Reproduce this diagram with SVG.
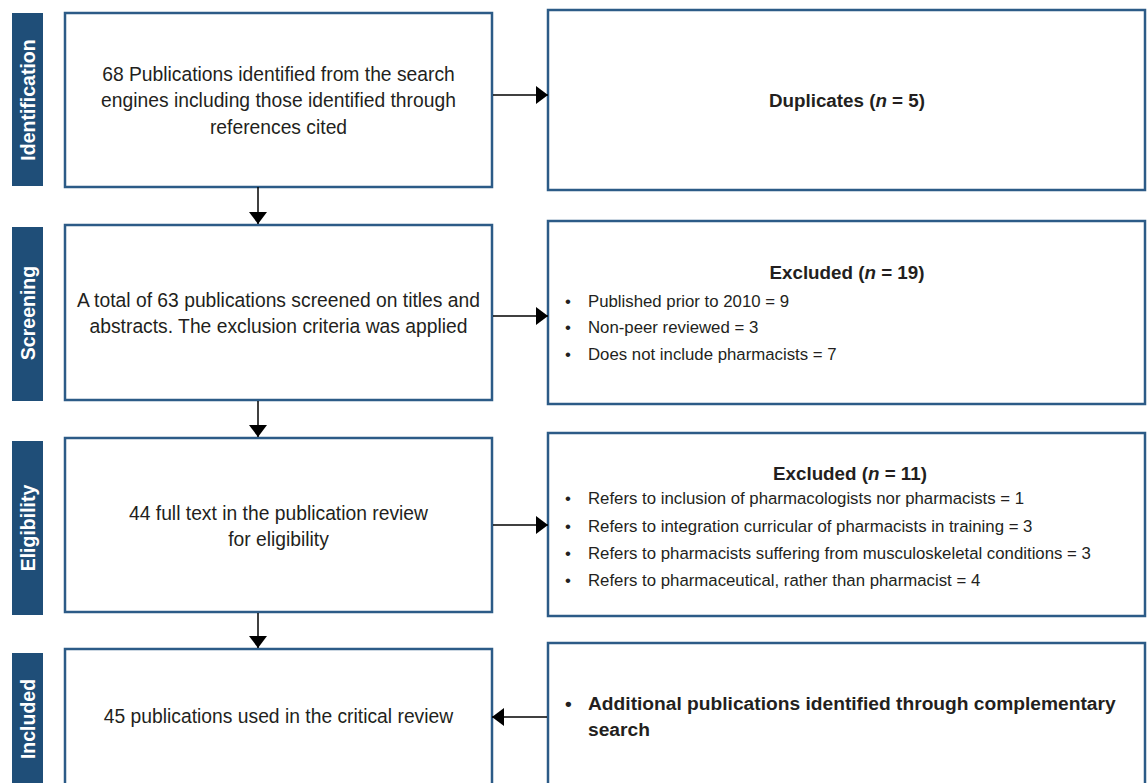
<svg xmlns="http://www.w3.org/2000/svg" width="1148" height="783" viewBox="0 0 1148 783">
<style>
.bar{fill:#1f4e78}
.box{fill:#ffffff;stroke:#2c5b87;stroke-width:2.5}
.lbl{font-family:"Liberation Sans",Arial,sans-serif;font-weight:bold;font-size:19.5px;fill:#ffffff;text-anchor:middle}
.t{font-family:"Liberation Sans",Arial,sans-serif;font-size:19.3px;fill:#231f20}
.c{text-anchor:middle}
.b{font-weight:bold;font-size:18.8px}
.ab{font-weight:bold;font-size:19.2px}
.s{font-size:16.8px}
.conn line{stroke:#000;stroke-width:1.5}
</style>
<defs>
<marker id="ah" viewBox="0 0 12 18" refX="12" refY="9" markerWidth="12" markerHeight="18" markerUnits="userSpaceOnUse" orient="auto">
<path d="M0,0 L12,9 L0,18 Z" fill="#000"/>
</marker>
</defs>
<rect width="1148" height="783" fill="#ffffff"/>

<g id="phase-identification">
<rect class="bar" x="12" y="13" width="31" height="173"/>
<text class="lbl" transform="translate(34.5,100) rotate(-90)">Identification</text>
</g>
<g id="phase-screening">
<rect class="bar" x="12" y="227" width="31" height="174"/>
<text class="lbl" transform="translate(34.5,313) rotate(-90)">Screening</text>
</g>
<g id="phase-eligibility">
<rect class="bar" x="12" y="441" width="31" height="174"/>
<text class="lbl" transform="translate(34.5,528) rotate(-90)">Eligibility</text>
</g>
<g id="phase-included">
<rect class="bar" x="12" y="653" width="31" height="140"/>
<text class="lbl" transform="translate(34.5,719) rotate(-90)">Included</text>
</g>

<g id="n-identified">
<rect class="box" x="65" y="13" width="427" height="174"/>
<text class="t c" x="278.5" y="81">68 Publications identified from the search</text>
<text class="t c" x="278.5" y="107">engines including those identified through</text>
<text class="t c" x="278.5" y="134">references cited</text>
</g>
<g id="n-duplicates">
<rect class="box" x="548" y="10" width="597" height="180"/>
<text class="t c b" x="847" y="107">Duplicates (<tspan font-style="italic">n</tspan> = 5)</text>
</g>

<g id="n-screened">
<rect class="box" x="65" y="225" width="427" height="175"/>
<text class="t c" x="278.5" y="307">A total of 63 publications screened on titles and</text>
<text class="t c" x="278.5" y="333">abstracts. The exclusion criteria was applied</text>
</g>
<g id="n-excluded-19">
<rect class="box" x="548" y="221" width="597" height="183"/>
<text class="t c b" x="847" y="279">Excluded (<tspan font-style="italic">n</tspan> = 19)</text>
<text class="t s" x="565" y="307">•</text><text class="t s" x="588" y="307">Published prior to 2010 = 9</text>
<text class="t s" x="565" y="333">•</text><text class="t s" x="588" y="333">Non-peer reviewed = 3</text>
<text class="t s" x="565" y="360">•</text><text class="t s" x="588" y="360">Does not include pharmacists = 7</text>
</g>

<g id="n-eligibility">
<rect class="box" x="65" y="438" width="427" height="174"/>
<text class="t c" x="278.5" y="520">44 full text in the publication review</text>
<text class="t c" x="278.5" y="546">for eligibility</text>
</g>
<g id="n-excluded-11">
<rect class="box" x="548" y="433" width="597" height="183"/>
<text class="t c b" x="850" y="480">Excluded (<tspan font-style="italic">n</tspan> = 11)</text>
<text class="t s" x="565" y="504">•</text><text class="t s" x="588" y="504">Refers to inclusion of pharmacologists nor pharmacists = 1</text>
<text class="t s" x="565" y="532">•</text><text class="t s" x="588" y="532">Refers to integration curricular of pharmacists in training = 3</text>
<text class="t s" x="565" y="559">•</text><text class="t s" x="588" y="559">Refers to pharmacists suffering from musculoskeletal conditions = 3</text>
<text class="t s" x="565" y="586">•</text><text class="t s" x="588" y="586">Refers to pharmaceutical, rather than pharmacist = 4</text>
</g>

<g id="n-included">
<rect class="box" x="65" y="649" width="427" height="150"/>
<text class="t c" x="278.5" y="723">45 publications used in the critical review</text>
</g>
<g id="n-additional">
<rect class="box" x="548" y="643" width="597" height="160"/>
<text class="t ab" x="565" y="710">•</text>
<text class="t ab" x="588" y="710">Additional publications identified through complementary</text>
<text class="t ab" x="588" y="736">search</text>
</g>

<g id="connectors" class="conn">
<line x1="258" y1="187" x2="258" y2="224" marker-end="url(#ah)"/>
<line x1="258" y1="401" x2="258" y2="437" marker-end="url(#ah)"/>
<line x1="258" y1="613" x2="258" y2="648" marker-end="url(#ah)"/>
<line x1="493" y1="95" x2="548" y2="95" marker-end="url(#ah)"/>
<line x1="493" y1="316" x2="548" y2="316" marker-end="url(#ah)"/>
<line x1="493" y1="525" x2="548" y2="525" marker-end="url(#ah)"/>
<line x1="547" y1="717" x2="492" y2="717" marker-end="url(#ah)"/>
</g>
</svg>
